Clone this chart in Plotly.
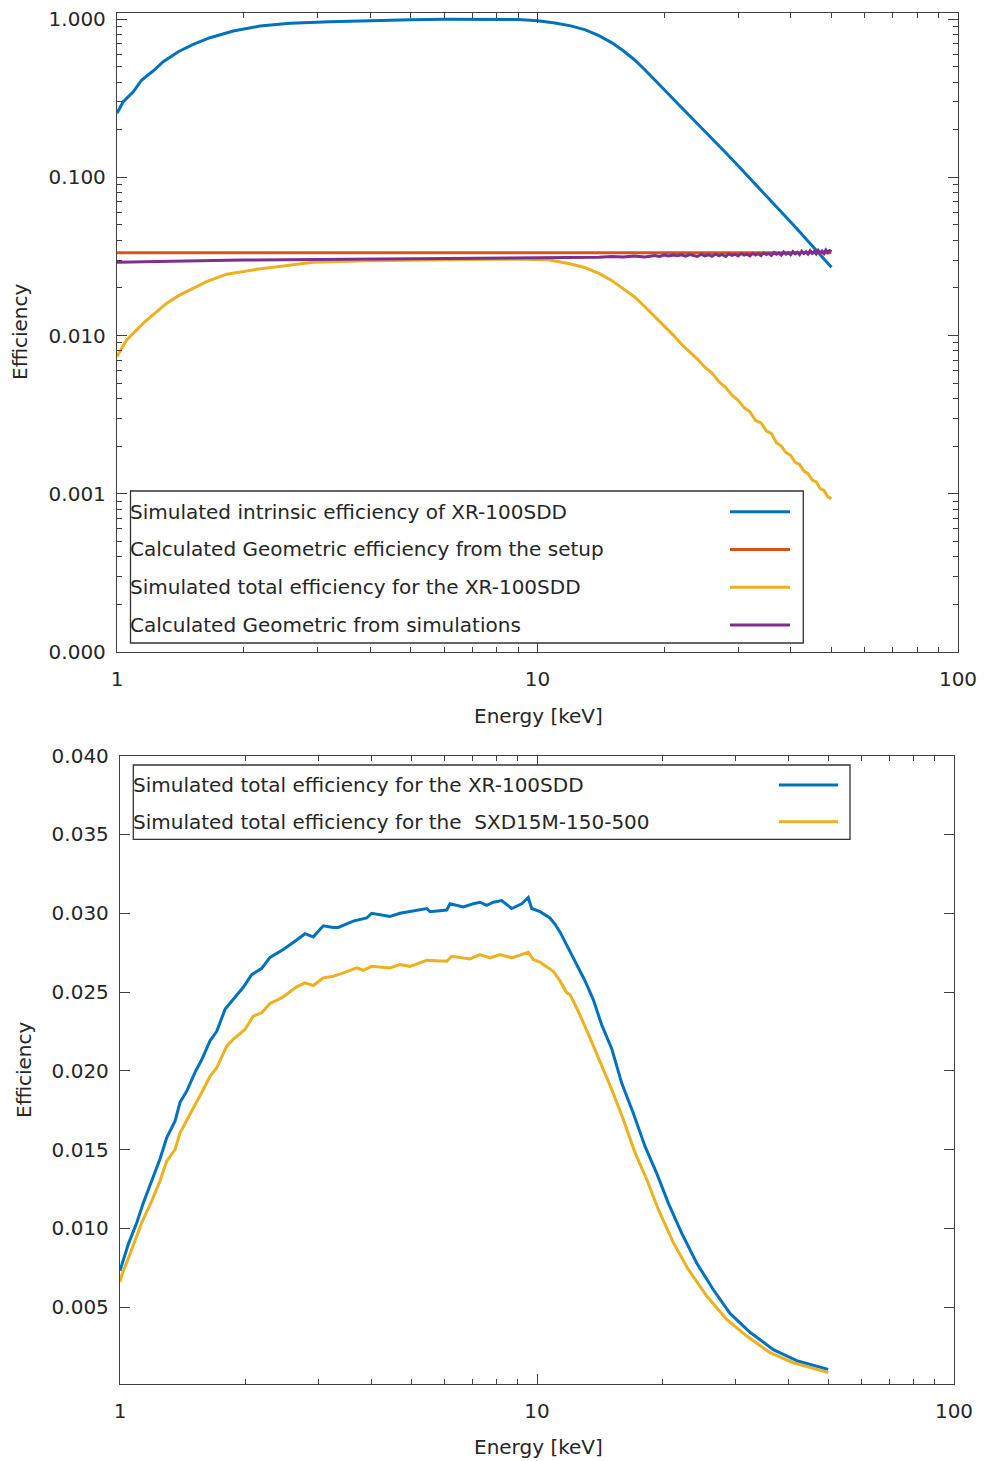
import plotly.graph_objects as go

W, H = 985, 1461

# ---------------- Top panel data (log-log) ----------------
E_intr = [1.00, 1.035, 1.093, 1.145, 1.22, 1.288, 1.399, 1.518, 1.664, 1.89, 2.188, 2.579, 3.21,
          4.0, 5.0, 6.0, 7.0, 8.0, 9.0, 10.0, 11, 12, 13, 14, 15, 16, 17, 18, 19, 20,
          22, 24, 26, 28, 30, 32, 34, 36, 38, 40, 42, 44, 46, 48, 50]
eff_intr = [0.254, 0.300, 0.347, 0.412, 0.471, 0.537, 0.621, 0.692, 0.762, 0.840, 0.903, 0.939, 0.961,
            0.978, 0.990, 0.995, 0.997, 0.997, 0.993, 0.975, 0.945, 0.905, 0.855, 0.785, 0.71, 0.63, 0.553, 0.478, 0.414, 0.359,
            0.276, 0.2186, 0.1758, 0.1433, 0.1182, 0.0986, 0.0831, 0.0706, 0.0604, 0.0521, 0.0452, 0.0395, 0.0346, 0.0305, 0.027]

E_geo = [1.0, 10.0, 50.0]
eff_geo = [0.0333, 0.0333, 0.0333]

E_tot = [1.0, 1.054, 1.155, 1.313, 1.412, 1.634, 1.823, 2.149, 2.488, 2.93, 3.92, 5.0, 5.65, 7.0, 8.15, 9.0,
         10.0, 10.7, 11, 12, 13, 14, 15, 16, 17, 18, 19,
         20, 21, 22, 23, 24, 25, 26, 27, 28, 29, 30, 31, 32, 33, 34, 35, 36, 37, 38, 39, 40,
         41, 42, 43, 44, 45, 46, 47, 48, 49, 50]
eff_tot = [0.00736, 0.00938, 0.01197, 0.0160, 0.01805, 0.0219, 0.0244, 0.0262, 0.0275, 0.0290, 0.0297, 0.0300, 0.0300, 0.0302, 0.0303, 0.0304,
           0.0303, 0.0300, 0.0296, 0.0283, 0.0268, 0.0247, 0.0223, 0.0198, 0.0176, 0.0152, 0.0132,
           0.0114, 0.0101, 0.0088, 0.0079, 0.0071, 0.0063, 0.0058, 0.0051, 0.0047, 0.0042, 0.0039, 0.0035, 0.0033, 0.0029, 0.0028,
           0.0025, 0.0024, 0.0021, 0.0020, 0.00182, 0.00175,
           0.00158, 0.00153, 0.00139, 0.00134, 0.00122, 0.00119, 0.00108, 0.00105, 0.00096, 0.00093]

E_sim = [1, 1.1, 1.2, 1.3, 1.4, 1.5, 1.7, 2, 2.3, 2.6, 3, 3.5, 4, 4.5, 5, 6, 7, 8, 9, 10,
         11, 12, 13, 14, 15, 16, 17, 18, 19, 19.5,
         20.0, 20.5, 21.0, 21.5, 22.0, 22.5, 23.0, 23.5, 24.0, 24.5, 25.0, 25.5, 26.0, 26.5, 27.0, 27.5,
         28.0, 28.5, 29.0, 29.5, 30.0, 30.5, 31.0, 31.5, 32.0, 32.5, 33.0, 33.5, 34.0, 34.5, 35.0, 35.5,
         36.0, 36.5, 37.0, 37.5, 38.0, 38.5, 39.0, 39.5, 40.0, 40.5, 41.0, 41.5, 42.0, 42.5, 43.0, 43.5,
         44.0, 44.5, 45.0, 45.5, 46.0, 46.5, 47.0, 47.5, 48.0, 48.5, 49.0, 49.5, 50.0]
eff_sim = [0.0290, 0.0292, 0.0293, 0.0294, 0.0296, 0.0296, 0.0298, 0.0300, 0.0301, 0.0302, 0.0303, 0.0304, 0.0305, 0.0305,
           0.0306, 0.0307, 0.0308, 0.0309, 0.0310, 0.0311,
           0.0313, 0.0311, 0.0314, 0.0312, 0.0316, 0.0313, 0.0318, 0.0314, 0.0320, 0.0316,
           0.0322, 0.0318, 0.0323, 0.0319, 0.0324, 0.0317, 0.0325, 0.0320, 0.0316, 0.0326, 0.0319, 0.0324, 0.0317, 0.0327,
           0.0320, 0.0325, 0.0316, 0.0328, 0.0321, 0.0326, 0.0318, 0.0330, 0.0322, 0.0327, 0.0319, 0.0331, 0.0323, 0.0329,
           0.0320, 0.0333, 0.0325, 0.0330, 0.0321, 0.0335, 0.0326, 0.0332, 0.0322, 0.0337, 0.0327, 0.0334, 0.0324, 0.0339,
           0.0328, 0.0336, 0.0325, 0.0341, 0.0330, 0.0338, 0.0327, 0.0343, 0.0331, 0.0340, 0.0328, 0.0345, 0.0333, 0.0342,
           0.0330, 0.0347, 0.0335, 0.0344, 0.0339]

# ---------------- Bottom panel data ----------------
E_xr = [1.00, 1.047, 1.097, 1.137, 1.191, 1.247, 1.294, 1.355, 1.393, 1.445, 1.513, 1.570, 1.644, 1.706, 1.786,
        1.869, 1.975, 2.069, 2.187, 2.289, 2.464, 2.653, 2.777, 2.907, 3.073, 3.247, 3.338, 3.626, 3.904, 4.013,
        4.442, 4.693, 5.147, 5.439, 5.540, 6.074, 6.186, 6.658, 7.035, 7.300, 7.575, 7.857, 8.229, 8.697, 9.191,
        9.53, 9.71, 10.17, 10.74, 11.05, 11.36, 11.67, 12.00, 12.45, 13.04, 13.65, 14.30, 15.11, 15.97, 17.02,
        18.16, 19.36, 20.65, 22.23, 24.15, 26.48, 29.03, 32.42, 36.87, 41.97, 46.86, 49.94]
eff_xr = [0.0073, 0.0090, 0.01035, 0.0116, 0.0130, 0.0144, 0.01575, 0.0168, 0.0180, 0.0187, 0.0199, 0.0207, 0.0219, 0.0225, 0.0239,
          0.0245, 0.0253, 0.0261, 0.0265, 0.0272, 0.0277, 0.0283, 0.0287, 0.0285, 0.0292, 0.0291, 0.0291, 0.0295, 0.0297, 0.0300,
          0.0298, 0.0300, 0.0302, 0.0303, 0.0301, 0.0302, 0.0306, 0.0304, 0.0306, 0.0307, 0.0305, 0.0307, 0.0308, 0.0303, 0.0306,
          0.0310, 0.0303, 0.0301, 0.0297, 0.0293, 0.0288, 0.0282, 0.0276, 0.0267, 0.0257, 0.0245, 0.0229, 0.0214, 0.0192, 0.0173,
          0.0152, 0.0135, 0.0116, 0.0097, 0.0078, 0.0061, 0.0046, 0.0034, 0.0023, 0.0016, 0.00126, 0.00105]

E_sxd = [1.00, 1.009, 1.067, 1.127, 1.191, 1.247, 1.294, 1.355, 1.393, 1.458, 1.513, 1.584, 1.644, 1.706, 1.803,
         1.869, 1.994, 2.087, 2.187, 2.289, 2.442, 2.653, 2.777, 2.907, 3.073, 3.247, 3.432, 3.695, 3.832, 4.013,
         4.442, 4.693, 4.960, 5.439, 6.074, 6.244, 6.907, 7.300, 7.716, 8.153, 8.697, 9.191, 9.53, 9.797, 10.17,
         10.35, 10.94, 11.36, 11.79, 12.00, 12.56, 13.40, 14.30, 15.11, 16.11, 17.18, 18.33, 19.54, 21.23, 23.06,
         25.53, 28.51, 31.84, 36.21, 41.18, 46.86, 49.94]
eff_sxd = [0.0066, 0.0070, 0.00866, 0.01035, 0.01173, 0.0130, 0.01426, 0.0150, 0.01606, 0.01702, 0.01786, 0.01881, 0.01965, 0.02019, 0.02156,
           0.02199, 0.02262, 0.02346, 0.02368, 0.02427, 0.02463, 0.02533, 0.02558, 0.02541, 0.0259, 0.0260, 0.02621, 0.02653, 0.02638, 0.02663,
           0.02653, 0.02674, 0.02663, 0.02701, 0.02695, 0.02727, 0.0271, 0.02738, 0.02717, 0.02738, 0.02717, 0.02738, 0.02752, 0.02706, 0.02690,
           0.02674, 0.02632, 0.02569, 0.02495, 0.02484, 0.02378, 0.02209, 0.02029, 0.01881, 0.01691, 0.0148, 0.0131, 0.0112, 0.00909, 0.00739,
           0.0057, 0.00422, 0.00316, 0.00211, 0.00147, 0.00105, 0.00084]

top_yticks = [1e-4, 1e-3, 1e-2, 1e-1, 1.0]
top_yticktext = ["0.000", "0.001", "0.010", "0.100", "1.000"]
x_ticks = [1, 10, 100]
x_ticktext = ["1", "10", "100"]
x_minor = [2, 3, 4, 5, 6, 7, 8, 9, 20, 30, 40, 50, 60, 70, 80, 90]
y_minor_log = [m * d for d in [1e-4, 1e-3, 1e-2, 1e-1] for m in range(2, 10)]

legend_top = ["Simulated intrinsic efficiency of XR-100SDD",
              "Calculated Geometric efficiency from the setup",
              "Simulated total efficiency for the XR-100SDD",
              "Calculated Geometric from simulations"]
legend_bot = ["Simulated total efficiency for the XR-100SDD",
              "Simulated total efficiency for the \u00a0SXD15M-150-500"]

BLUE, ORANGE, YELLOW, PURPLE = "#0072BD", "#D95319", "#EDB120", "#7E2F8E"
TXT = "#262626"
AX = "#404040"
FONT = "DejaVu Sans"
FS = 20


def px(x):
    return x / W


def py(y):
    return 1 - y / H


fig = go.Figure()
lw = 3
fig.add_trace(go.Scatter(x=E_intr, y=eff_intr, mode="lines", line=dict(color=BLUE, width=lw), xaxis="x", yaxis="y"))
fig.add_trace(go.Scatter(x=E_geo, y=eff_geo, mode="lines", line=dict(color=ORANGE, width=lw), xaxis="x", yaxis="y"))
fig.add_trace(go.Scatter(x=E_tot, y=eff_tot, mode="lines", line=dict(color=YELLOW, width=lw), xaxis="x", yaxis="y"))
fig.add_trace(go.Scatter(x=E_sim, y=eff_sim, mode="lines", line=dict(color=PURPLE, width=lw), xaxis="x", yaxis="y"))
fig.add_trace(go.Scatter(x=E_sxd, y=eff_sxd, mode="lines", line=dict(color=YELLOW, width=lw), xaxis="x2", yaxis="y2"))
fig.add_trace(go.Scatter(x=E_xr, y=eff_xr, mode="lines", line=dict(color=BLUE, width=lw), xaxis="x2", yaxis="y2"))

common = dict(showline=True, linecolor=AX, linewidth=1.3, mirror="allticks", ticks="inside",
              tickcolor=AX, tickwidth=1.3, showgrid=False, zeroline=False, automargin=False,
              tickfont=dict(family=FONT, size=FS, color=TXT))

xaxis_common = dict(common, type="log", range=[0, 2], tickmode="array", tickvals=x_ticks, ticktext=x_ticktext,
                    ticklen=10, ticklabelstandoff=9,
                    minor=dict(ticks="inside", tickmode="array", tickvals=x_minor, ticklen=5,
                               tickcolor=AX, tickwidth=1.3, showgrid=False))

fig.update_layout(
    width=W, height=H, margin=dict(l=0, r=0, t=0, b=0, pad=0, autoexpand=False),
    paper_bgcolor="white", plot_bgcolor="white", showlegend=False,
    xaxis=dict(xaxis_common, domain=[px(117), px(958)], anchor="y"),
    yaxis=dict(common, type="log", range=[-4, 0.04], domain=[py(652), py(12.7)], anchor="x",
               tickmode="array", tickvals=top_yticks, ticktext=top_yticktext, ticklen=10, ticklabelstandoff=6,
               minor=dict(ticks="inside", tickmode="array", tickvals=y_minor_log, ticklen=5,
                          tickcolor=AX, tickwidth=1.3, showgrid=False)),
    xaxis2=dict(xaxis_common, domain=[px(120), px(954)], anchor="y2"),
    yaxis2=dict(common, range=[0.0001, 0.040], domain=[py(1384.3), py(755.7)], anchor="x2",
                tickmode="linear", tick0=0, dtick=0.005, tickformat=".3f", ticklen=10, ticklabelstandoff=6),
)

shapes = []
annotations = []

# axis titles
for txt, x, y, ang in [("Efficiency", 20, 332, -90), ("Energy [keV]", 538, 716, 0),
                       ("Efficiency", 24, 1070, -90), ("Energy [keV]", 538, 1447, 0)]:
    annotations.append(dict(text=txt, x=px(x), y=py(y), xref="paper", yref="paper", showarrow=False,
                            xanchor="center", yanchor="middle", textangle=ang,
                            font=dict(family=FONT, size=FS, color=TXT)))

# top legend
shapes.append(dict(type="rect", xref="paper", yref="paper", x0=px(130.5), x1=px(803.3), y0=py(643), y1=py(491),
                   line=dict(color="#333333", width=1.3), fillcolor="white", layer="above"))
for i, (lab, col) in enumerate(zip(legend_top, [BLUE, ORANGE, YELLOW, PURPLE])):
    yy = 511.7 + i * 37.8
    annotations.append(dict(text=lab, x=px(128), y=py(yy), xref="paper", yref="paper", showarrow=False,
                            xanchor="left", yanchor="middle", font=dict(family=FONT, size=FS, color=TXT)))
    shapes.append(dict(type="line", xref="paper", yref="paper", x0=px(730), x1=px(790), y0=py(yy), y1=py(yy),
                       line=dict(color=col, width=3), layer="above"))

# bottom legend
shapes.append(dict(type="rect", xref="paper", yref="paper", x0=px(133.3), x1=px(850), y0=py(839.3), y1=py(765),
                   line=dict(color="#333333", width=1.3), fillcolor="white", layer="above"))
for i, (lab, col) in enumerate(zip(legend_bot, [BLUE, YELLOW])):
    yy = 785 + i * 36.8
    annotations.append(dict(text=lab, x=px(130.5), y=py(yy), xref="paper", yref="paper", showarrow=False,
                            xanchor="left", yanchor="middle", font=dict(family=FONT, size=FS, color=TXT)))
    shapes.append(dict(type="line", xref="paper", yref="paper", x0=px(779), x1=px(838), y0=py(yy), y1=py(yy),
                       line=dict(color=col, width=3), layer="above"))

fig.update_layout(shapes=shapes, annotations=annotations)
fig.write_html("out.html")
